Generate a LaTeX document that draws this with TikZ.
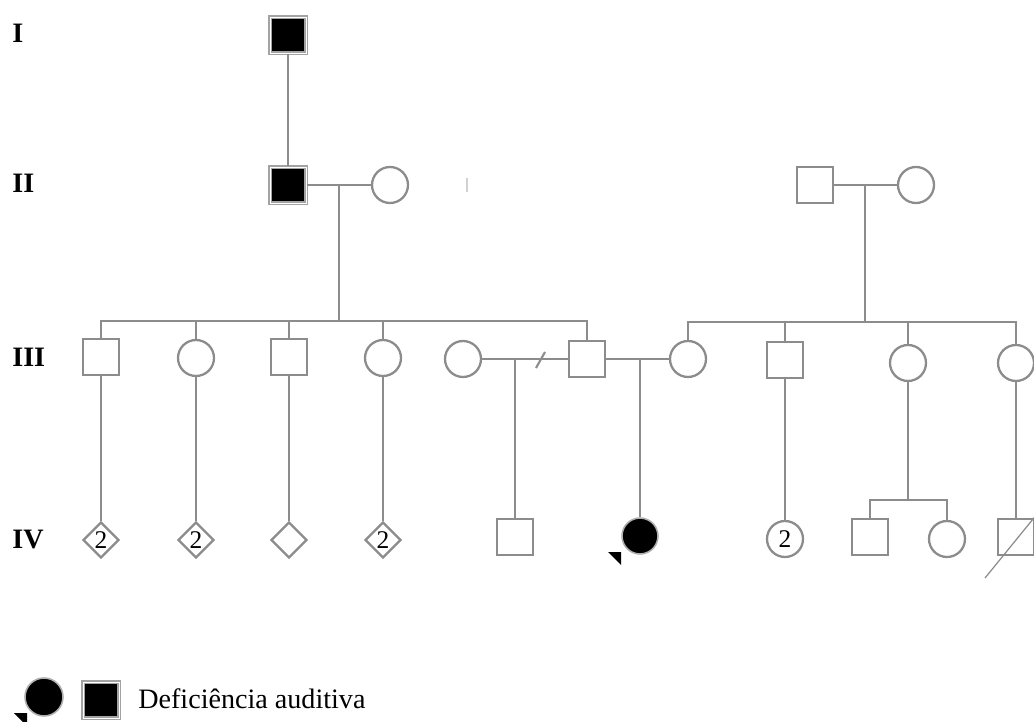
\documentclass[tikz,border=0pt]{standalone}
\usepackage{fontspec}
\setmainfont{Liberation Serif}
\usetikzlibrary{shapes.geometric}
\definecolor{pggray}{RGB}{140,140,140}
\tikzset{
  pgline/.style={draw=pggray, line width=1.2pt},
  pgmale/.style={rectangle, draw=pggray, line width=1.3pt, fill=white, minimum size=0.72cm, inner sep=0pt},
  pgfemale/.style={circle, draw=pggray, line width=1.3pt, fill=white, minimum size=0.72cm, inner sep=0pt},
  pgany/.style={diamond, draw=pggray, line width=1.3pt, fill=white, minimum size=0.72cm, inner sep=0pt},
  pgaffected/.style={fill=black, draw=pggray!80, double=white, double distance=0.5pt, line width=0.7pt},
  pgaffdot/.style={fill=black, draw=pggray!70, line width=0.9pt},
  pgnum/.style={font=\fontsize{14.5}{14.5}\selectfont},
  pggen/.style={font=\fontsize{16}{16}\selectfont\bfseries, anchor=base west, inner sep=0pt},
  pgtext/.style={font=\fontsize{16}{16}\selectfont, anchor=base west, inner sep=0pt}
}

\begin{document}
\begin{tikzpicture}[x=0.02cm, y=-0.02cm]
  \useasboundingbox (0,0) rectangle (1034,722);

  \node[pggen] (gI) at (12,43) {I};
  \node[pggen] (gII) at (12,193) {II};
  \node[pggen] (gIII) at (12,367) {III};
  \node[pggen] (gIV) at (12,548) {IV};

  % generation I and II
  \node[pgmale, pgaffected] (Ia) at (288,35) {};
  \node[pgmale, pgaffected] (IIa) at (288,185) {};
  \node[pgfemale] (IIb) at (390,185) {};
  \node[pgmale] (IIc) at (815,185) {};
  \node[pgfemale] (IId) at (916,185) {};

  % generation III
  \node[pgmale] (IIIa) at (101,357) {};
  \node[pgfemale] (IIIb) at (196,358) {};
  \node[pgmale] (IIIc) at (289,357) {};
  \node[pgfemale] (IIId) at (383,358) {};
  \node[pgfemale] (IIIe) at (463,359) {};
  \node[pgmale] (IIIf) at (587,359) {};
  \node[pgfemale] (IIIg) at (688,359) {};
  \node[pgmale] (IIIh) at (785,360) {};
  \node[pgfemale] (IIIi) at (908,363) {};
  \node[pgfemale] (IIIj) at (1016,363) {};

  % generation IV
  \node[pgany, pgnum] (IVa) at (101,540) {2};
  \node[pgany, pgnum] (IVb) at (196,540) {2};
  \node[pgany] (IVc) at (289,540) {};
  \node[pgany, pgnum] (IVd) at (383,540) {2};
  \node[pgmale] (IVe) at (515,537) {};
  \node[pgfemale, pgaffdot] (IVf) at (640,536) {};
  \node[pgfemale, pgnum] (IVg) at (785,539) {2};
  \node[pgmale] (IVh) at (870,537) {};
  \node[pgfemale] (IVi) at (947,539) {};
  \node[pgmale] (IVj) at (1016,537) {};

  \coordinate (mIIa) at (339,185);
  \coordinate (sibIIa) at (339,321);
  \coordinate (mIIc) at (865,185);
  \coordinate (sibIIc) at (865,322);
  \coordinate (mIIIe) at (515,359);
  \coordinate (mIIIf) at (640,359);
  \coordinate (sibIIIi) at (908,500);

  \draw[pgline] (Ia) -- (IIa);
  \draw[pgline] (IIa) -- (IIb);
  \draw[pgline] (IIc) -- (IId);
  \draw[pgline] (mIIa) -- (sibIIa);
  \draw[pgline] (mIIc) -- (sibIIc);

  \draw[pgline] (IIIa.north) |- (IIIf.north |- sibIIa) -- (IIIf.north);
  \foreach \k in {IIIb,IIIc,IIId}
    \draw[pgline] (\k.north) -- (\k.north |- sibIIa);
  \draw[pgline] (IIIg.north) |- (IIIj.north |- sibIIc) -- (IIIj.north);
  \foreach \k in {IIIh,IIIi}
    \draw[pgline] (\k.north) -- (\k.north |- sibIIc);

  \draw[pgline] (IIIe) -- (IIIf);
  \draw[pgline] (IIIf) -- (IIIg);
  \draw[pgline] (536,368) -- (545,352);
  \draw[pgline] (mIIIe) -- (IVe.north);
  \draw[pgline] (mIIIf) -- (IVf.north);

  \draw[pgline] (IIIa) -- (IVa);
  \draw[pgline] (IIIb) -- (IVb);
  \draw[pgline] (IIIc) -- (IVc);
  \draw[pgline] (IIId) -- (IVd);
  \draw[pgline] (IIIh) -- (IVg);
  \draw[pgline] (IIIi) -- (sibIIIi);
  \draw[pgline] (IVh.north) |- (sibIIIi) -| (IVi.north);
  \draw[pgline] (IIIj) -- (IVj);

  % deceased and proband marks
  \draw[pggray, line width=0.7pt] (985,578) -- (1042,508);
  \fill (608,552) -- (621,552) -- (621,565) -- cycle;
  \draw[pggray!40, line width=0.8pt] (467,178) -- (467,192);

  % legend
  \node[pgfemale, pgaffdot, minimum size=0.76cm] (lgf) at (44,697) {};
  \node[pgmale, pgaffected] (lgm) at (101,700) {};
  \fill (14,713) -- (27,713) -- (27,726) -- cycle;
  \node[pgtext] (lgtext) at (138,708) {Deficiência auditiva};
\end{tikzpicture}
\end{document}
